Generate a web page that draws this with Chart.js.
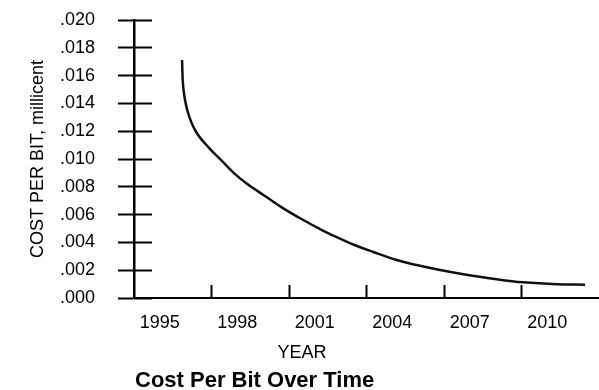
<!DOCTYPE html>
<html>
<head>
<meta charset="utf-8">
<script src="https://cdn.jsdelivr.net/npm/chart.js@4.4.0/dist/chart.umd.min.js"></script>
<style>
  html, body { margin: 0; padding: 0; background: #fff; }
  #wrap { width: 599px; height: 390px; }
</style>
</head>
<body>
<div id="wrap"><canvas id="c" width="599" height="390"></canvas></div>
<script>
// ---- data ----
const years = [1995.86, 1995.91, 1996.08, 1996.40, 1996.92, 1997.43, 1997.88, 1998.36, 1999.01, 1999.78,
               2000.55, 2001.20, 2001.59, 2002.49, 2003.26, 2004.17, 2004.94, 2005.85, 2006.75, 2008.04,
               2009.07, 2010.36, 2011.46];
const costPerBit = [0.01712, 0.01509, 0.01340, 0.01196, 0.01077, 0.00981, 0.00897, 0.00824, 0.00741, 0.00645,
                    0.00561, 0.00496, 0.00460, 0.00385, 0.00331, 0.00273, 0.00237, 0.00201, 0.00171, 0.00135,
                    0.00113, 0.00099, 0.00096];
const yearTickLabels = ['1995', '1998', '2001', '2004', '2007', '2010'];
const yearTickMarks = [1997, 2000, 2003, 2006, 2009];
const costTicks = [0, 0.002, 0.004, 0.006, 0.008, 0.010, 0.012, 0.014, 0.016, 0.018, 0.020];
const costTickLabels = ['.000', '.002', '.004', '.006', '.008', '.010', '.012', '.014', '.016', '.018', '.020'];
const chartTitle = 'Cost Per Bit Over Time';
const xTitle = 'YEAR';
const yTitle = 'COST PER BIT, millicent';

const FAMILY = '"Liberation Sans", Arial, Helvetica, sans-serif';

const textPlugin = {
  id: 'extraTexts',
  afterDraw(chart) {
    const { ctx, chartArea } = chart;
    ctx.save();
    ctx.fillStyle = '#000';
    ctx.textBaseline = 'alphabetic';
    ctx.font = '18px ' + FAMILY;
    ctx.textAlign = 'center';
    ctx.fillText(xTitle, chartArea.left + 168, chartArea.bottom + 60);
    ctx.font = 'bold 22px ' + FAMILY;
    ctx.textAlign = 'left';
    ctx.fillText(chartTitle, chartArea.left + 1, chartArea.bottom + 89);
    ctx.restore();
  }
};

new Chart(document.getElementById('c'), {
  type: 'line',
  data: {
    datasets: [{
      data: years.map((y, i) => ({ x: y, y: costPerBit[i] })),
      borderColor: '#111',
      borderWidth: 2.5,
      pointRadius: 0,
      fill: false,
      tension: 0.4,
      xAxisID: 'x',
      yAxisID: 'y'
    }]
  },
  options: {
    responsive: false,
    devicePixelRatio: 1,
    animation: false,
    layout: { padding: { top: 20, right: 0, bottom: 0, left: 0 } },
    plugins: { legend: { display: false }, tooltip: { enabled: false }, title: { display: false } },
    scales: {
      x: {
        type: 'linear', axis: 'x', position: 'bottom', min: 1994, max: 2012,
        afterBuildTicks: s => { s.ticks = yearTickLabels.map(l => ({ value: Number(l) })); },
        afterFit: s => { s.height = 92; s.paddingLeft = 0; s.paddingRight = 0; },
        grid: { display: false, drawTicks: false },
        border: { display: true, color: '#000', width: 2 },
        ticks: {
          padding: 14, color: '#000', autoSkip: false, maxRotation: 0,
          font: { family: FAMILY, size: 18 },
          callback: (v, i) => yearTickLabels[i]
        }
      },
      xMarks: {
        type: 'linear', axis: 'x', position: { y: 0.00094 }, min: 1994, max: 2012,
        afterBuildTicks: s => { s.ticks = yearTickMarks.map(v => ({ value: v })); },
        afterFit: s => { s.paddingLeft = 0; s.paddingRight = 0; s.paddingTop = 0; s.paddingBottom = 0; },
        grid: { display: true, drawOnChartArea: false, drawTicks: true, tickLength: 13, tickColor: '#000', tickWidth: 2 },
        border: { display: false },
        ticks: { display: false }
      },
      y: {
        type: 'linear', axis: 'y', position: 'left', min: 0, max: 0.02,
        afterBuildTicks: s => { s.ticks = costTicks.map(v => ({ value: v })); },
        afterFit: s => { s.width = 134; s.paddingTop = 0; s.paddingBottom = 0; },
        grid: { display: true, drawOnChartArea: false, drawTicks: true, tickLength: 16, tickColor: '#000', tickWidth: 2 },
        border: { display: true, color: '#000', width: 2.5 },
        ticks: {
          padding: 23, color: '#000',
          font: { family: FAMILY, size: 18 },
          callback: (v, i) => costTickLabels[i]
        },
        title: {
          display: true, text: yTitle, color: '#000',
          font: { family: FAMILY, size: 18 },
          padding: { top: 27, bottom: 0 }
        }
      },
      yMarks: {
        type: 'linear', axis: 'y', position: { x: 1994.7 }, min: 0, max: 0.02,
        afterBuildTicks: s => { s.ticks = costTicks.map(v => ({ value: v })); },
        afterFit: s => { s.paddingLeft = 0; s.paddingRight = 0; s.paddingTop = 0; s.paddingBottom = 0; },
        grid: { display: true, drawOnChartArea: false, drawTicks: true, tickLength: 18, tickColor: '#000', tickWidth: 2 },
        border: { display: false },
        ticks: { display: false }
      }
    }
  },
  plugins: [textPlugin]
});
</script>
</body>
</html>
